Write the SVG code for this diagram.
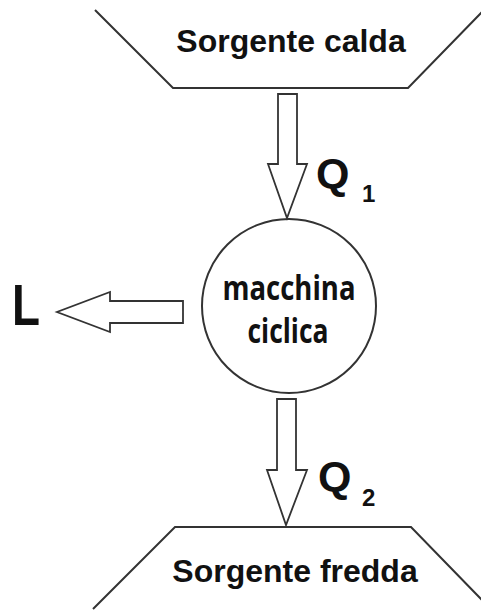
<svg xmlns="http://www.w3.org/2000/svg" width="481" height="610" viewBox="0 0 481 610">
<style>
.ln{fill:none;stroke:#333;stroke-width:2}
.ar{fill:#fff;stroke:#333;stroke-width:1.8;stroke-linejoin:miter}
.h{font-family:"Liberation Sans",Arial,sans-serif;font-weight:bold;fill:#111}
.m{font-family:"Open Sans",Lato,sans-serif;font-weight:bold;font-size:34px;fill:#111}
</style>
<rect width="481" height="610" fill="#fff"/>
<g id="sorgente-calda">
<polyline class="ln" points="95,10 173,88 408,88 483,11"/>
<text class="h" x="291" y="52" font-size="32" text-anchor="middle">Sorgente calda</text>
</g>
<g id="macchina-ciclica">
<circle class="ln" cx="289" cy="306" r="87"/>
<text class="m" x="289" y="300" text-anchor="middle" textLength="133" lengthAdjust="spacingAndGlyphs">macchina</text>
<text class="m" x="288" y="343" text-anchor="middle" textLength="81" lengthAdjust="spacingAndGlyphs">ciclica</text>
</g>
<g id="sorgente-fredda">
<polyline class="ln" points="93,609 175,527 411,527 483,601"/>
<text class="h" x="295" y="582" font-size="32" text-anchor="middle">Sorgente fredda</text>
</g>
<g id="connectors">
<polygon class="ar" points="278,94 297,94 297,164 307,164 287,218 268,164 278,164"/>
<polygon class="ar" points="277,399 296,399 296,470 307,470 286,525 267,470 277,470"/>
<polygon class="ar" points="183,301 183,323 110,323 110,332 57,312 110,292 110,301"/>
</g>
<g id="labels">
<text class="h" x="316" y="188" font-size="43">Q</text>
<text class="h" x="362" y="202" font-size="24">1</text>
<text class="h" x="318" y="491" font-size="43">Q</text>
<text class="h" x="362" y="506" font-size="24">2</text>
<text class="h" x="12" y="325" font-size="58" textLength="28" lengthAdjust="spacingAndGlyphs">L</text>
</g>
</svg>
